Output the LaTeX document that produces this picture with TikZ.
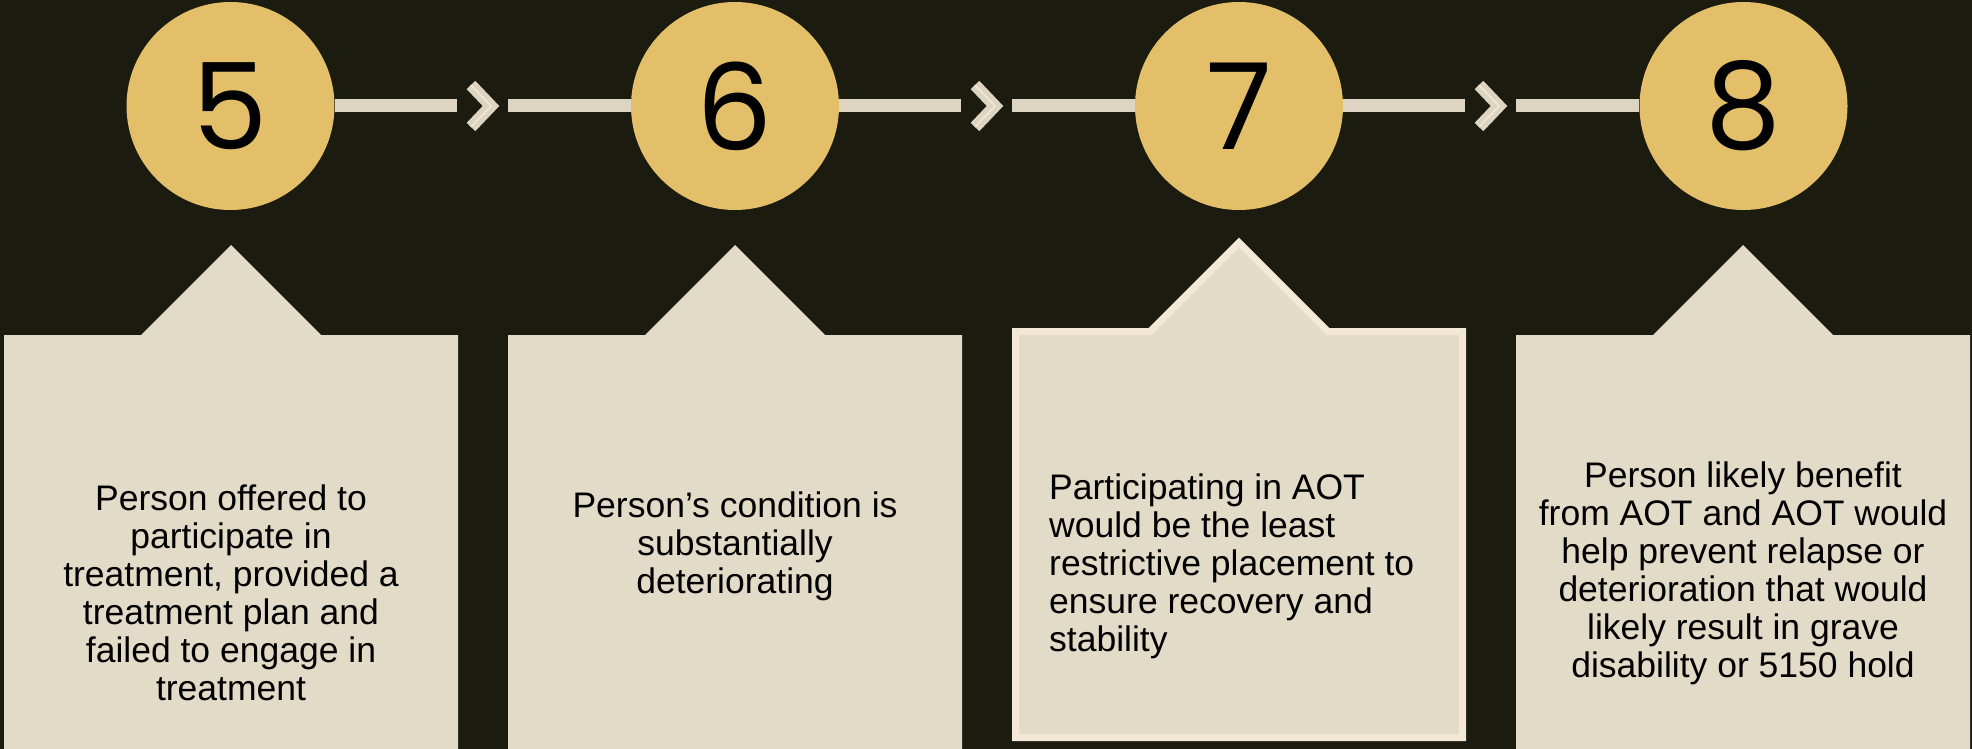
\documentclass[tikz,border=0pt]{standalone}
\usepackage{fontspec}
\setmainfont{Liberation Sans}
\newfontfamily\numfont{Poppins}
\usetikzlibrary{positioning}
\definecolor{dark}{RGB}{27,27,16}
\definecolor{gold}{RGB}{228,191,105}
\definecolor{sand}{RGB}{226,219,200}
\definecolor{rail}{RGB}{221,212,194}
\definecolor{cream}{RGB}{243,232,213}

\begin{document}
\begin{tikzpicture}[x=1pt, y=-1pt,
  num/.style={circle, fill=gold, minimum size=208pt, inner sep=0pt, text=black,
              font=\numfont\fontsize{120}{120}\selectfont},
  txt/.style={anchor=north, inner sep=0pt, align=center, text=black,
              font=\fontsize{35.5}{38}\selectfont},
  rail/.style={draw=rail, line width=13pt},
  chev/.style={draw=rail, line width=12pt, miter limit=4}]
\fill[dark] (0,0) rectangle (1972,749);
\useasboundingbox (0,0) rectangle (1972,749);
\foreach \x in {231,735,1743}
  \fill[sand] (\x-227,749) -- (\x-227,335) -- (\x-90,335) -- (\x,245) -- (\x+90,335)
    -- (\x+227,335) -- (\x+227,749) -- cycle;
\filldraw[fill=sand, draw=cream, line width=7pt] (1015.5,737.5) -- (1015.5,331.5) -- (1150,331.5)
  -- (1239,242.5) -- (1328,331.5) -- (1462.5,331.5) -- (1462.5,737.5) -- cycle;

\node[num] (c5) at (230.5,106) {5};
\node[num] (c6) at (735,106) {6};
\node[num] (c7) at (1239,106) {7};
\node[num] (c8) at (1743.5,106) {8};

\coordinate (g56) at (483,106);
\coordinate (g67) at (987,106);
\coordinate (g78) at (1491,106);

\draw[rail] (c5) -- ([xshift=-26pt]g56);
\draw[rail] ([xshift=25pt]g56) -- (c6);
\draw[rail] (c6) -- ([xshift=-26pt]g67);
\draw[rail] ([xshift=25pt]g67) -- (c7);
\draw[rail] (c7) -- ([xshift=-26pt]g78);
\draw[rail] ([xshift=25pt]g78) -- (c8);
\foreach \g in {g56,g67,g78} {
  \draw[chev] ([shift={(-12,-21)}]\g) -- ([shift={(8,0)}]\g) -- ([shift={(-12,21)}]\g);
  \draw[cream, line width=1.5pt] ([shift={(-12,-21)}]\g) -- ([shift={(8,0)}]\g) -- ([shift={(-12,21)}]\g);
}

\node[txt] (t5) at (231,485) {Person offered to\\participate in\\treatment, provided a\\treatment plan and\\failed to engage in\\treatment};
\node[txt] (t6) at (735,492) {Person’s condition is\\substantially\\deteriorating};
\node[txt, anchor=north west, align=left] (t7) at (1049,474) {Participating in AOT\\would be the least\\restrictive placement to\\ensure recovery and\\stability};
\node[txt] (t8) at (1743,462) {Person likely benefit\\from AOT and AOT would\\help prevent relapse or\\deterioration that would\\likely result in grave\\disability or 5150 hold};
\end{tikzpicture}
\end{document}
